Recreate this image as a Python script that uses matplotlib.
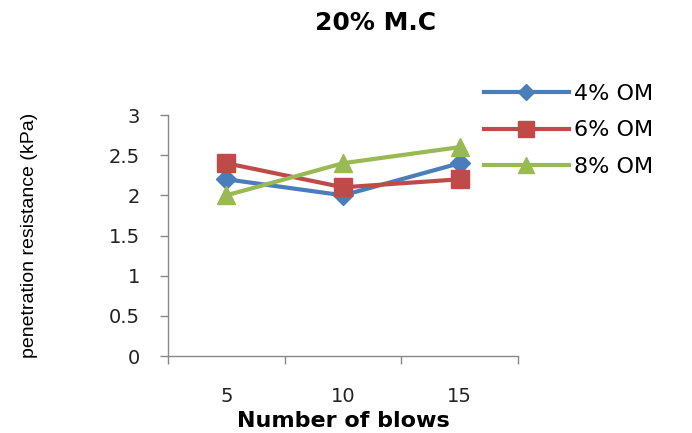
import matplotlib
matplotlib.use("Agg")
import matplotlib.pyplot as plt

blows = ["5", "10", "15"]
om_4 = [2.2, 2.0, 2.4]
om_6 = [2.4, 2.1, 2.2]
om_8 = [2.0, 2.4, 2.6]
series_names = ["4% OM", "6% OM", "8% OM"]
y_ticks = [0, 0.5, 1, 1.5, 2, 2.5, 3]
y_tick_labels = ["0", "0.5", "1", "1.5", "2", "2.5", "3"]

colors = ["#4A7EBB", "#BE4B48", "#98B954"]
markers = ["D", "s", "^"]
sizes = [10, 13, 13]

fig = plt.figure(figsize=(6.92, 4.33), dpi=100)
ax = fig.add_axes([0.2428, 0.1778, 0.5058, 0.5566])

x = list(range(len(blows)))
for vals, name, c, m, ms in zip([om_4, om_6, om_8], series_names, colors, markers, sizes):
    ax.plot(x, vals, color=c, lw=3, marker=m, ms=ms, label=name)

ax.set_xlim(-0.5, len(blows) - 0.5)
ax.set_ylim(0, 3)
ax.set_yticks(y_ticks)
ax.set_yticklabels(y_tick_labels)
ax.set_xticks([i - 0.5 for i in range(len(blows) + 1)])
ax.set_xticklabels([])
ax.set_xticks(x, minor=True)
ax.set_xticklabels(blows, minor=True)
ax.tick_params(axis="x", which="major", direction="out", length=6, color="#888888", width=1)
ax.tick_params(axis="x", which="minor", length=0, pad=22, labelsize=14, labelcolor="#222222")
ax.tick_params(axis="y", direction="out", length=6, color="#888888", width=1,
               pad=14, labelsize=14, labelcolor="#222222")

for s in ["top", "right"]:
    ax.spines[s].set_visible(False)
for s in ["left", "bottom"]:
    ax.spines[s].set_color("#888888")
    ax.spines[s].set_linewidth(1)

ax.set_xlabel("Number of blows", fontsize=16, fontweight="bold", labelpad=4)
ax.set_ylabel("penetration resistance (kPa)", fontsize=14, family="Liberation Sans")
ax.yaxis.set_label_coords(-0.371, 0.5)

fig.text(0.543, 0.948, "20% M.C", ha="center", va="center", fontsize=18, fontweight="bold")

ax.legend(loc="upper left", bbox_to_anchor=(0.903, 1.13), frameon=False, fontsize=16,
          handlelength=3.8, handletextpad=0.25, labelspacing=0.75, borderpad=0,
          borderaxespad=0, markerscale=0.85)

fig.savefig("out.png", dpi=100)
